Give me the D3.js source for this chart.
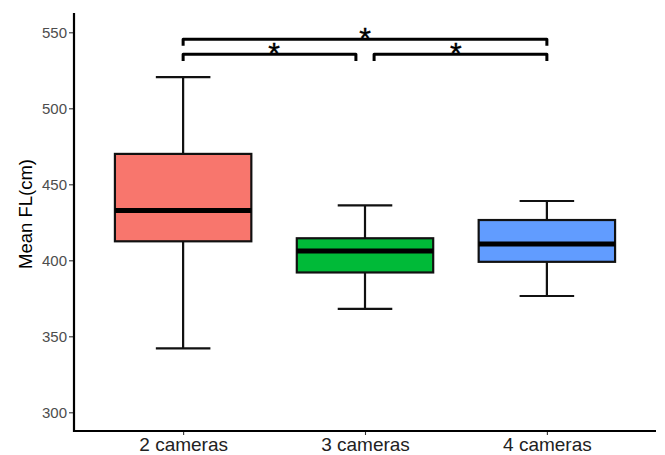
<html><head>
<script src="https://d3js.org/d3.v7.min.js"></script>
<style>
  body { margin: 0; background: #fff; }
  text { font-family: "Liberation Sans", Arial, sans-serif; }
</style>
</head><body>
<div id="chart"></div>
<script>
// box stats
const groups = ["2 cameras", "3 cameras", "4 cameras"];
const colors = ["#F8766D", "#00BA38", "#619CFF"];
const whiskerLow = [342, 368, 376.5];
const q1 = [412.5, 392, 399];
const median = [432.8, 406.2, 410.7];
const q3 = [470, 414.5, 426.5];
const whiskerHigh = [520.5, 436.2, 439];
const yTicks = [300, 350, 400, 450, 500, 550];

// significance brackets (group positions 1..3)
const bracketStart = [1, 1, 2.05];
const bracketEnd = [3, 1.95, 3];
const bracketMid = [2, 1.5, 2.5];
const bracketLevel = [545.4, 535.5, 535.5];
const bracketLabel = ["*", "*", "*"];

const width = 665, height = 455;
const svg = d3.select("#chart").append("svg")
    .attr("width", width)
    .attr("height", height);

const plotLeft = 74, plotRight = 656, plotTop = 13, plotBottom = 431;

let xScale = d3.scaleLinear().domain([0.4, 3.6]).range([plotLeft, plotRight]);
let yScale = d3.scaleLinear().domain([287.7, 562.7]).range([plotBottom, plotTop]);
const step = xScale(2) - xScale(1);

// axes
let leftAxis = d3.axisLeft(yScale).tickValues(yTicks).tickSize(5).tickPadding(2);
let yAxis = svg.append("g")
    .attr("transform", "translate(" + plotLeft + ",0)")
    .call(leftAxis);
yAxis.select(".domain").remove();
yAxis.selectAll(".tick line").attr("stroke", "#333").attr("stroke-width", 1.1);
yAxis.selectAll(".tick text").attr("fill", "#4d4d4d").attr("font-size", 15);

let bottomAxis = d3.axisBottom(xScale).tickValues([1, 2, 3])
    .tickFormat((d, i) => groups[i]).tickSize(4).tickPadding(3);
let xAxis = svg.append("g")
    .attr("transform", "translate(0," + plotBottom + ")")
    .call(bottomAxis);
xAxis.select(".domain").remove();
xAxis.selectAll(".tick line").attr("stroke", "#333").attr("stroke-width", 1.1);
xAxis.selectAll(".tick text").attr("fill", "#222").attr("font-size", 19);

// axis lines
svg.append("path")
    .attr("d", "M" + plotLeft + "," + plotTop + "V" + plotBottom + "H" + plotRight)
    .attr("fill", "none")
    .attr("stroke", "#000")
    .attr("stroke-width", 2.2);

// y title
svg.append("text")
    .attr("transform", "translate(32," + ((plotTop + plotBottom) / 2 - 8) + ") rotate(-90)")
    .attr("text-anchor", "middle")
    .attr("font-size", 18.5)
    .attr("fill", "#000")
    .text("Mean FL(cm)");

// boxes
let boxes = svg.append("g");
groups.forEach((g, i) => {
    const cx = xScale(i + 1);
    // whiskers
    boxes.append("line")
        .attr("x1", cx).attr("x2", cx)
        .attr("y1", yScale(whiskerHigh[i])).attr("y2", yScale(q3[i]))
        .attr("stroke", "#111").attr("stroke-width", 2.2);
    boxes.append("line")
        .attr("x1", cx).attr("x2", cx)
        .attr("y1", yScale(q1[i])).attr("y2", yScale(whiskerLow[i]))
        .attr("stroke", "#111").attr("stroke-width", 2.2);
    [whiskerHigh[i], whiskerLow[i]].forEach(v => {
        boxes.append("line")
            .attr("x1", cx - step * 0.15).attr("x2", cx + step * 0.15)
            .attr("y1", yScale(v)).attr("y2", yScale(v))
            .attr("stroke", "#111").attr("stroke-width", 2.2);
    });
    boxes.append("rect")
        .attr("x", cx - step * 0.375)
        .attr("width", step * 0.75)
        .attr("y", yScale(q3[i]))
        .attr("height", yScale(q1[i]) - yScale(q3[i]))
        .attr("fill", colors[i])
        .attr("stroke", "#111")
        .attr("stroke-width", 2.2);
    boxes.append("line")
        .attr("x1", cx - step * 0.375).attr("x2", cx + step * 0.375)
        .attr("y1", yScale(median[i])).attr("y2", yScale(median[i]))
        .attr("stroke", "#000").attr("stroke-width", 5);
});

// brackets
let brackets = svg.append("g");
bracketLevel.forEach((lv, i) => {
    const x1 = xScale(bracketStart[i]), x2 = xScale(bracketEnd[i]);
    const y = yScale(lv), yt = yScale(lv - 4.3);
    brackets.append("path")
        .attr("d", "M" + x1 + "," + yt + "V" + y + "H" + x2 + "V" + yt)
        .attr("fill", "none")
        .attr("stroke", "#000")
        .attr("stroke-width", 3)
        .attr("stroke-linejoin", "round");
    brackets.append("text")
        .attr("x", xScale(bracketMid[i]))
        .attr("y", y + 9)
        .attr("text-anchor", "middle")
        .attr("font-size", 30)
        .attr("fill", "#000")
        .attr("stroke", "#000")
        .attr("stroke-width", 0.4)
        .text(bracketLabel[i]);
});
</script>
</body></html>
